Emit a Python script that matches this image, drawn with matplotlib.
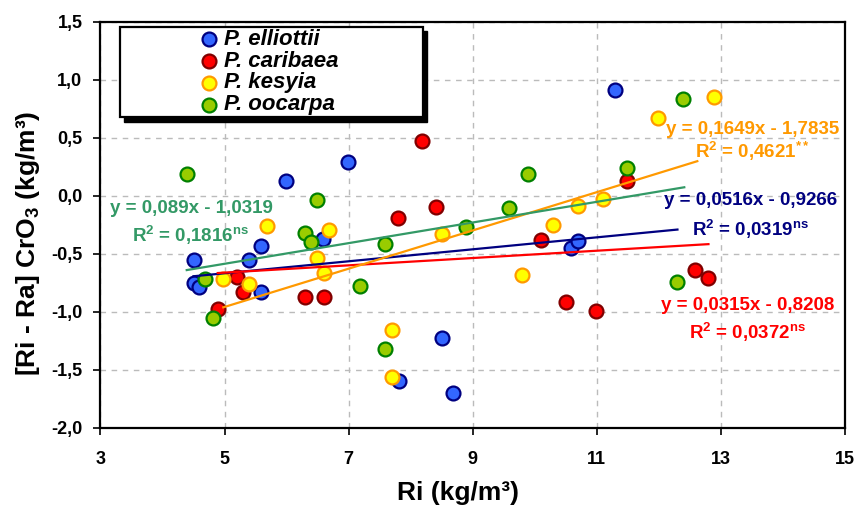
import matplotlib
matplotlib.use("Agg")
import matplotlib.pyplot as plt
from matplotlib.patches import Rectangle
import numpy as np

plt.rcParams['font.family'] = ['Liberation Sans', 'DejaVu Sans']
plt.rcParams['mathtext.fontset'] = 'custom'
plt.rcParams['mathtext.rm'] = 'Liberation Sans:bold'
plt.rcParams['mathtext.it'] = 'Liberation Sans:bold:italic'
plt.rcParams['mathtext.bf'] = 'Liberation Sans:bold'

# ---------------- data ----------------
species = ['P. elliottii', 'P. caribaea', 'P. kesyia', 'P. oocarpa']

elliottii_x = [4.50, 4.50, 4.59, 5.40, 5.59, 5.59, 5.99, 6.59, 6.99, 7.81, 8.50, 8.69, 10.59, 10.70, 11.30]
elliottii_y = [-0.55, -0.75, -0.79, -0.55, -0.43, -0.83, 0.13, -0.37, 0.29, -1.60, -1.23, -1.70, -0.45, -0.39, 0.91]

caribaea_x = [4.89, 5.20, 5.29, 6.30, 6.61, 7.80, 8.19, 8.40, 10.10, 10.50, 10.99, 11.49, 12.59, 12.80]
caribaea_y = [-0.98, -0.70, -0.83, -0.87, -0.87, -0.19, 0.47, -0.10, -0.38, -0.92, -0.99, 0.13, -0.64, -0.71]

kesyia_x = [4.98, 5.39, 5.69, 6.49, 6.60, 6.69, 7.70, 7.70, 8.50, 9.80, 10.29, 10.70, 11.10, 11.99, 12.89]
kesyia_y = [-0.72, -0.76, -0.26, -0.54, -0.67, -0.30, -1.16, -1.56, -0.33, -0.68, -0.25, -0.09, -0.03, 0.67, 0.85]

oocarpa_x = [4.39, 4.69, 4.81, 6.30, 6.39, 6.49, 7.19, 7.59, 7.59, 8.89, 9.59, 9.89, 11.49, 12.30, 12.39]
oocarpa_y = [0.19, -0.72, -1.05, -0.32, -0.40, -0.04, -0.78, -0.42, -1.32, -0.27, -0.11, 0.19, 0.24, -0.74, 0.83]

# trend lines (from the chart's equations)
fit_slope = [0.0516, 0.0315, 0.1649, 0.089]
fit_intercept = [-0.9266, -0.8208, -1.7835, -1.0319]
fit_x_start = [4.50, 4.89, 4.98, 4.39]
fit_x_end = [12.30, 12.80, 12.62, 12.41]
eq_labels = ['y = 0,0516x - 0,9266', 'y = 0,0315x - 0,8208',
             'y = 0,1649x - 1,7835', 'y = 0,089x - 1,0319']
r2_labels = [r'R$^{2}$ = 0,0319$^{\mathrm{ns}}$', r'R$^{2}$ = 0,0372$^{\mathrm{ns}}$',
             r'R$^{2}$ = 0,4621$^{\mathrm{**}}$', r'R$^{2}$ = 0,1816$^{\mathrm{ns}}$']

x_ticks = [3, 5, 7, 9, 11, 13, 15]
x_tick_labels = ['3', '5', '7', '9', '11', '13', '15']
y_ticks = [-2.0, -1.5, -1.0, -0.5, 0.0, 0.5, 1.0, 1.5]
y_tick_labels = ['-2,0', '-1,5', '-1,0', '-0,5', '0,0', '0,5', '1,0', '1,5']

# ---------------- styles ----------------
face_colors = ['#3366FF', '#FF0000', '#FFFF00', '#99CC00']
edge_colors = ['#000080', '#800000', '#FF9900', '#008000']
line_colors = ['#000080', '#FF0000', '#FF9900', '#339966']
# label positions (data coords): eq line and R2 line
eq_pos = [(13.48, -0.04), (13.43, -0.95), (13.51, 0.57), (4.46, -0.11)]
r2_pos = [(13.48, -0.29), (13.43, -1.18), (13.51, 0.38), (4.46, -0.34)]

xs = [elliottii_x, caribaea_x, kesyia_x, oocarpa_x]
ys = [elliottii_y, caribaea_y, kesyia_y, oocarpa_y]

fig = plt.figure(figsize=(8.56, 5.09), dpi=100)
ax = fig.add_axes([0.1174, 0.1597, 0.8697, 0.7977])

for i in range(4):
    ax.scatter(xs[i], ys[i], s=100, c=face_colors[i], edgecolors=edge_colors[i],
               linewidths=1.6, zorder=3 + i, label=species[i])

for i in range(4):
    lx = np.array([fit_x_start[i], fit_x_end[i]])
    ax.plot(lx, fit_slope[i] * lx + fit_intercept[i], color=line_colors[i],
            lw=1.6, zorder=10)
    ax.text(eq_pos[i][0], eq_pos[i][1], eq_labels[i], color=line_colors[i],
            fontsize=13.5, fontweight='bold', ha='center', va='center', zorder=11)
    ax.text(r2_pos[i][0], r2_pos[i][1], r2_labels[i], color=line_colors[i],
            fontsize=13.5, fontweight='bold', ha='center', va='center', zorder=11)

ax.set_xlim(3, 15)
ax.set_ylim(-2.0, 1.5)
ax.set_xticks(x_ticks)
ax.set_xticklabels(x_tick_labels)
ax.set_yticks(y_ticks)
ax.set_yticklabels(y_tick_labels)
for lab in ax.get_xticklabels() + ax.get_yticklabels():
    lab.set_fontweight('bold')
    lab.set_fontsize(13)
ax.tick_params(axis='x', direction='out', length=5, width=1.2, pad=12)
ax.tick_params(axis='y', direction='out', length=5, width=1.2, pad=8)

ax.grid(True, color='#BBBBBB', linestyle=(0, (4, 4)), linewidth=1.0, zorder=0)
ax.set_axisbelow(True)
for sp in ax.spines.values():
    sp.set_linewidth(1.6)
    sp.set_color('black')

ax.set_xlabel('Ri (kg/m³)', fontsize=19, fontweight='bold')
ax.set_ylabel('[Ri - Ra] CrO$_{3}$ (kg/m³)', fontsize=19, fontweight='bold')
ax.xaxis.set_label_coords(0.480, -0.132)
ax.yaxis.set_label_coords(-0.079, 0.455)

# legend box with black drop shadow
bx0, bx1, by0, by1 = 0.026, 0.433, 0.765, 0.987
ax.add_patch(Rectangle((bx0 + 0.006, by0 - 0.011), bx1 - bx0, by1 - by0,
                       transform=ax.transAxes, facecolor='black', edgecolor='black',
                       zorder=20))
ax.add_patch(Rectangle((bx0, by0), bx1 - bx0, by1 - by0, transform=ax.transAxes,
                       facecolor='white', edgecolor='black', linewidth=1.6, zorder=21))
leg = ax.legend(loc='center', bbox_to_anchor=((bx0 + bx1) / 2 - 0.004, (by0 + by1) / 2),
                frameon=False, prop={'weight': 'bold', 'style': 'italic', 'size': 16},
                labelspacing=0.04, handletextpad=0.2, borderpad=0.1,
                handlelength=1.0, scatterpoints=1)
leg.set_zorder(22)

fig.savefig('out.png', dpi=100)
